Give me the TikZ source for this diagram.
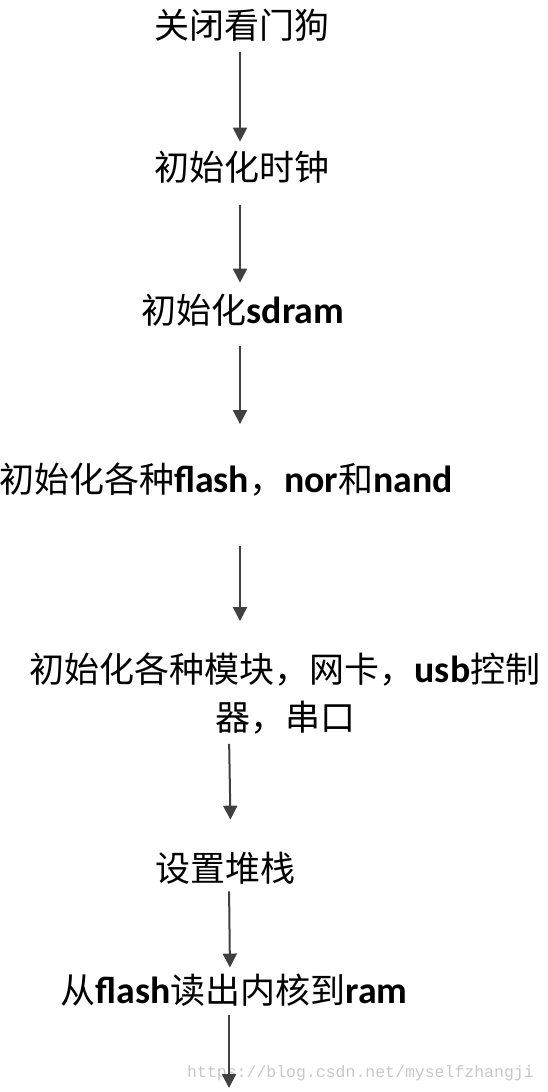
\documentclass[tikz,border=0pt]{standalone}
\usepackage{fontspec}
\usetikzlibrary{arrows.meta}
\setmainfont{Carlito}[Scale=1.08]
\newfontfamily\cjk{Noto Sans CJK SC}
\newfontfamily\wmfont{Liberation Mono}
\definecolor{arrowGray}{HTML}{404040}
\definecolor{markGray}{HTML}{C8C8C8}
\newcommand{\en}[1]{{\rmfamily\bfseries #1}}

\begin{document}
\begin{tikzpicture}[x=1pt,y=-1pt,
  stage/.style={inner sep=0pt,align=center,
    font=\cjk\fontsize{35}{48}\selectfont},
  arr/.style={-{Triangle[length=14pt,width=14pt]},arrowGray,line width=2pt}
]
  \useasboundingbox (0,0) rectangle (547,1092);
  % steps of the boot flow
  \node[stage] (dog) at (241.5,25) {关闭看门狗};
  \node[stage] (clk) at (241.5,167) {初始化时钟};
  \node[stage] (sdram) at (243,310) {初始化\en{sdram}};
  \node[stage] (flash) at (226,480) {初始化各种\en{flash}，\en{nor}和\en{nand}};
  \node[stage] (dev) at (285,694) {初始化各种模块，网卡，\en{usb}控制\\器，串口};
  \node[stage] (stack) at (225,868) {设置堆栈};
  \node[stage] (load) at (234,990) {从\en{flash}读出内核到\en{ram}};
  \node[font=\wmfont\fontsize{16.5}{20}\selectfont,text=markGray,anchor=west,inner sep=0pt] (mark) at (187,1073) {https://blog.csdn.net/myselfzhangji};
  \coordinate (tail) at (229,1088);

  \draw[arr,shorten <=11pt,shorten >=9pt] (240,0 |- dog.south) -- (240,0 |- clk.north);
  \draw[arr,shorten <=22pt,shorten >=11pt] (240,0 |- clk.south) -- (240,0 |- sdram.north);
  \draw[arr,shorten <=20pt,shorten >=39pt] (240,0 |- sdram.south) -- (240,0 |- flash.north);
  \draw[arr,shorten <=49pt,shorten >=32pt] (240,0 |- flash.south) -- (240,0 |- dev.north);
  \draw[arr,shorten <=9pt,shorten >=32pt] (229,0 |- dev.south) -- (231,0 |- stack.north);
  \draw[arr,shorten <=7pt,shorten >=6pt] (229,0 |- stack.south) -- (230,0 |- load.north);
  \draw[arr,shorten <=9pt] (229,0 |- load.south) -- (tail);
\end{tikzpicture}
\end{document}
